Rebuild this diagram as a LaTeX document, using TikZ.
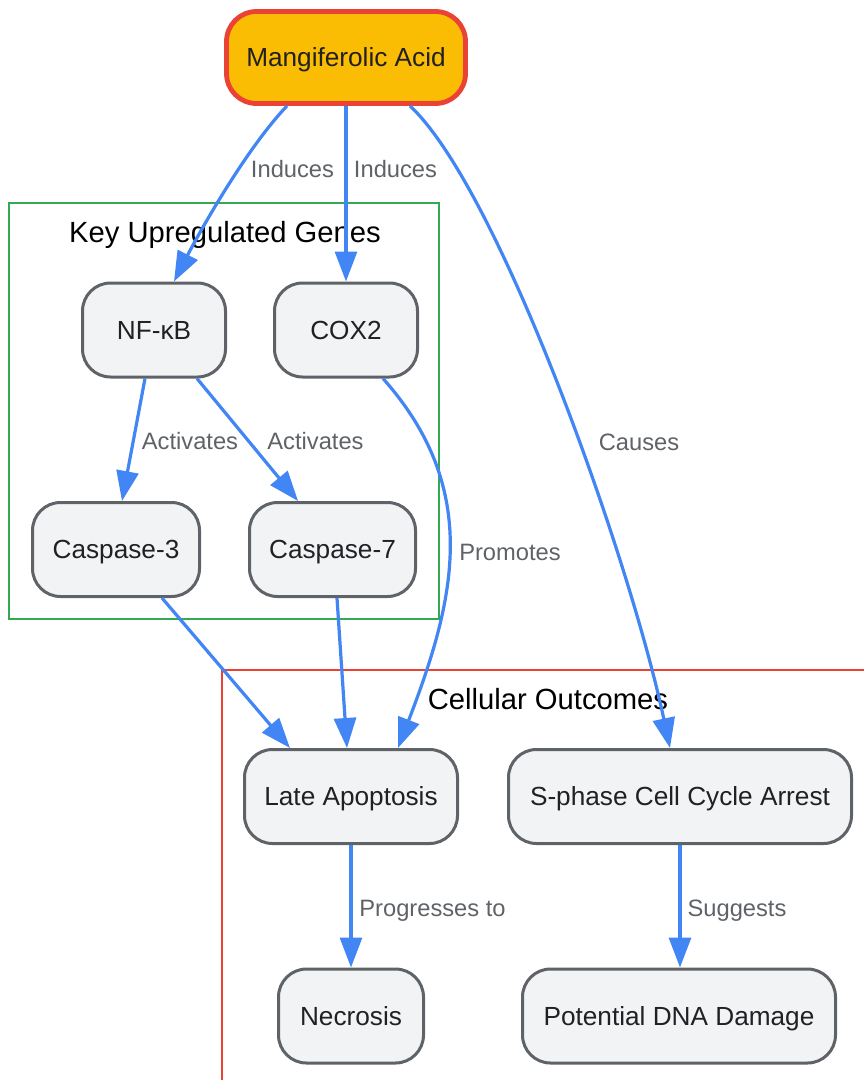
\documentclass[tikz,border=0pt]{standalone}
\usepackage{fontspec}
\setmainfont{Liberation Sans}
\usetikzlibrary{arrows.meta}
\definecolor{nodefill}{HTML}{F1F3F4}
\definecolor{nodeline}{HTML}{5F6368}
\definecolor{nodetext}{HTML}{202124}
\definecolor{edgeblue}{HTML}{4285F4}
\definecolor{labelgray}{HTML}{5F6368}
\definecolor{clgreen}{HTML}{34A853}
\definecolor{clred}{HTML}{EA4335}
\definecolor{mangfill}{HTML}{FBBC04}
\tikzset{
  box/.style={draw=nodeline, fill=nodefill, line width=3pt, rounded corners=28pt,
    minimum height=94pt, inner sep=0pt, text=nodetext,
    font=\fontsize{26.2}{30}\selectfont, text height=18.7pt, text depth=0pt},
  mainbox/.style={box, draw=clred, fill=mangfill, line width=4.8pt, rounded corners=30pt, minimum height=92pt},
  conn/.style={draw=edgeblue, line width=3.2pt, -{Triangle[length=30pt,width=22pt]}},
  elabel/.style={text=labelgray, anchor=base, inner sep=0pt, font=\fontsize{23.7}{28}\selectfont},
  ctitle/.style={text=black, anchor=base, inner sep=0pt, font=\fontsize{29.2}{34}\selectfont},
  cluster/.style={line width=2.5pt}
}
\begin{document}
\begin{tikzpicture}[x=1pt,y=-1pt]
\useasboundingbox[fill=white] (0,0) rectangle (863,1080);

% clusters
\draw[cluster, draw=clgreen] (9,203) rectangle (439,619);
\node[ctitle] (t1) at (225,242) {Key Upregulated Genes};
\draw[cluster, draw=clred] (222,670) -- (880,670);
\draw[cluster, draw=clred] (222,670) -- (222,1095);
\node[ctitle] (t2) at (548,709) {Cellular Outcomes};

% nodes
\node[mainbox, minimum width=239pt] (m) at (346,57.5) {Mangiferolic Acid};
\node[box, minimum width=143pt] (nf) at (154,330) {NF-κB};
\node[box, minimum width=143pt] (cox) at (346,330) {COX2};
\node[box, minimum width=167pt, minimum height=94pt] (c3) at (116,549.5) {Caspase-3};
\node[box, minimum width=166pt, minimum height=94pt] (c7) at (332.5,549.5) {Caspase-7};
\node[box, minimum width=213pt, minimum height=94pt] (late) at (351,796.5) {Late Apoptosis};
\node[box, minimum width=343pt, minimum height=94pt] (s) at (680,796.5) {S-phase Cell Cycle Arrest};
\node[box, minimum width=145pt] (nec) at (351,1016) {Necrosis};
\node[box, minimum width=313pt] (dna) at (679,1016) {Potential DNA Damage};

% connectors
\draw[conn] ([xshift=-59pt]m.south) .. controls (245,150) and (198,235) .. ([xshift=20pt]nf.north);
\draw[conn] (m.south) -- (cox.north);
\draw[conn] ([xshift=64pt]m.south) .. controls (500,190) and (630,560) .. ([xshift=-10pt]s.north);
\draw[conn] ([xshift=-9pt]nf.south) -- ([xshift=6pt]c3.north);
\draw[conn] ([xshift=43pt]nf.south) -- ([xshift=-34.5pt]c7.north);
\draw[conn] ([xshift=37pt]cox.south) .. controls (482,490) and (455,600) .. ([xshift=47pt]late.north);
\draw[conn] ([xshift=46pt]c3.south) -- ([xshift=-61pt]late.north);
\draw[conn] ([xshift=4.5pt]c7.south) -- ([xshift=-4pt]late.north);
\draw[conn] (late.south) -- (nec.north);
\draw[conn] (s.south) -- ([xshift=1pt]dna.north);

% edge labels
\node[elabel] (l1) at (292.5,177.5) {Induces};
\node[elabel] (l2) at (395.5,177.5) {Induces};
\node[elabel] (l3) at (190,449) {Activates};
\node[elabel] (l4) at (315.5,449) {Activates};
\node[elabel] (l5) at (510,560) {Promotes};
\node[elabel] (l6) at (639,450) {Causes};
\node[elabel] (l7) at (432.5,916.5) {Progresses to};
\node[elabel] (l8) at (737,916.5) {Suggests};
\end{tikzpicture}
\end{document}
